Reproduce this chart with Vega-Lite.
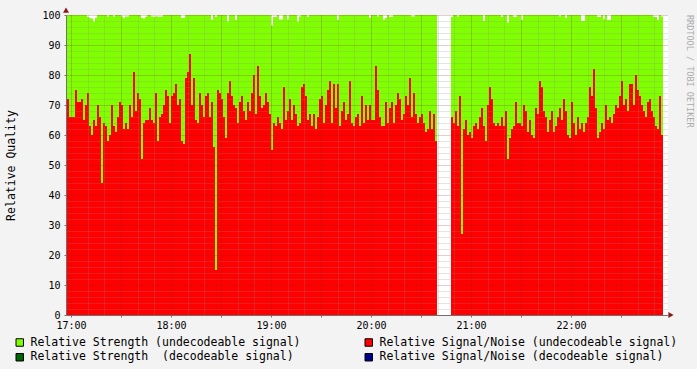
{
  "$schema": "https://vega.github.io/schema/vega-lite/v6.json",
  "width": 602,
  "height": 300,
  "autosize": {"type": "none"},
  "padding": {"left": 66, "top": 15, "right": 29, "bottom": 54},
  "background": "#F3F3F3",
  "config": {"view": {"stroke": null, "fill": "#FFFFFF"}, "font": "DejaVu Sans Mono", "scale": {"continuousPadding": 0}},
  "title": {"text": "RRDTOOL / TOBI OETIKER", "orient": "right", "anchor": "start", "frame": "group", "offset": 7, "fontSize": 8.5, "font": "DejaVu Sans Mono", "color": "#ABABAB", "fontWeight": "normal"},
  "data": {"values": [
{"t":-2.4,"t2":-1.2,"r":72,"g":100},{"t":-1.2,"t2":0,"r":66,"g":100},{"t":0,"t2":1.2,"r":66,"g":100},{"t":1.2,"t2":2.4,"r":66,"g":100},{"t":2.4,"t2":3.6,"r":75,"g":100},{"t":3.6,"t2":4.8,"r":71,"g":100},{"t":4.8,"t2":6,"r":71,"g":100},{"t":6,"t2":7.2,"r":72,"g":100},{"t":7.2,"t2":8.4,"r":65,"g":100},{"t":8.4,"t2":9.6,"r":70,"g":100},
{"t":9.6,"t2":10.8,"r":74,"g":99.3},{"t":10.8,"t2":12,"r":63,"g":99},{"t":12,"t2":13.2,"r":60,"g":98.8},{"t":13.2,"t2":14.4,"r":65,"g":97.8},{"t":14.4,"t2":15.6,"r":63,"g":99},{"t":15.6,"t2":16.8,"r":70,"g":100},{"t":16.8,"t2":18,"r":66,"g":100},{"t":18,"t2":19.2,"r":44,"g":100},{"t":19.2,"t2":20.4,"r":64,"g":100},{"t":20.4,"t2":21.6,"r":63,"g":100},
{"t":21.6,"t2":22.8,"r":58,"g":99.5},{"t":22.8,"t2":24,"r":60,"g":100},{"t":24,"t2":25.2,"r":70,"g":100},{"t":25.2,"t2":26.4,"r":63,"g":99.5},{"t":26.4,"t2":27.6,"r":61,"g":100},{"t":27.6,"t2":28.8,"r":66,"g":100},{"t":28.8,"t2":30,"r":71,"g":100},{"t":30,"t2":31.2,"r":70,"g":99.5},{"t":31.2,"t2":32.4,"r":62,"g":99},{"t":32.4,"t2":33.6,"r":64,"g":99.5},
{"t":33.6,"t2":34.8,"r":62,"g":99.5},{"t":34.8,"t2":36,"r":70,"g":100},{"t":36,"t2":37.2,"r":66,"g":100},{"t":37.2,"t2":38.4,"r":81,"g":100},{"t":38.4,"t2":39.6,"r":68,"g":100},{"t":39.6,"t2":40.8,"r":74,"g":100},{"t":40.8,"t2":42,"r":72,"g":100},{"t":42,"t2":43.2,"r":52,"g":99},{"t":43.2,"t2":44.4,"r":64,"g":98.8},{"t":44.4,"t2":45.6,"r":65,"g":99.3},
{"t":45.6,"t2":46.8,"r":65,"g":100},{"t":46.8,"t2":48,"r":69,"g":100},{"t":48,"t2":49.2,"r":65,"g":99.5},{"t":49.2,"t2":50.4,"r":64,"g":99.3},{"t":50.4,"t2":51.6,"r":74,"g":99.6},{"t":51.6,"t2":52.8,"r":58,"g":99.5},{"t":52.8,"t2":54,"r":66,"g":99.3},{"t":54,"t2":55.2,"r":67,"g":99.5},{"t":55.2,"t2":56.4,"r":70,"g":100},{"t":56.4,"t2":57.6,"r":75,"g":100},
{"t":57.6,"t2":58.8,"r":73,"g":100},{"t":58.8,"t2":60,"r":64,"g":100},{"t":60,"t2":61.2,"r":73,"g":100},{"t":61.2,"t2":62.4,"r":74,"g":100},{"t":62.4,"t2":63.6,"r":77,"g":100},{"t":63.6,"t2":64.8,"r":70,"g":100},{"t":64.8,"t2":66,"r":72,"g":100},{"t":66,"t2":67.2,"r":58,"g":99},{"t":67.2,"t2":68.4,"r":57,"g":99},{"t":68.4,"t2":69.6,"r":79,"g":100},
{"t":69.6,"t2":70.8,"r":81,"g":100},{"t":70.8,"t2":72,"r":87,"g":100},{"t":72,"t2":73.2,"r":70,"g":100},{"t":73.2,"t2":74.4,"r":79,"g":100},{"t":74.4,"t2":75.6,"r":65,"g":100},{"t":75.6,"t2":76.8,"r":64,"g":100},{"t":76.8,"t2":78,"r":74,"g":100},{"t":78,"t2":79.2,"r":70,"g":100},{"t":79.2,"t2":80.4,"r":66,"g":100},{"t":80.4,"t2":81.6,"r":73,"g":100},
{"t":81.6,"t2":82.8,"r":74,"g":100},{"t":82.8,"t2":84,"r":66,"g":100},{"t":84,"t2":85.2,"r":71,"g":98.3},{"t":85.2,"t2":86.4,"r":56,"g":100},{"t":86.4,"t2":87.6,"r":15,"g":99.3},{"t":87.6,"t2":88.8,"r":75,"g":100},{"t":88.8,"t2":90,"r":74,"g":100},{"t":90,"t2":91.2,"r":72,"g":100},{"t":91.2,"t2":92.4,"r":66,"g":100},{"t":92.4,"t2":93.6,"r":59,"g":100},
{"t":93.6,"t2":94.8,"r":74,"g":97.8},{"t":94.8,"t2":96,"r":78,"g":100},{"t":96,"t2":97.2,"r":73,"g":100},{"t":97.2,"t2":98.4,"r":70,"g":100},{"t":98.4,"t2":99.6,"r":69,"g":98.3},{"t":99.6,"t2":100.8,"r":64,"g":100},{"t":100.8,"t2":102,"r":71,"g":100},{"t":102,"t2":103.2,"r":73,"g":100},{"t":103.2,"t2":104.4,"r":68,"g":100},{"t":104.4,"t2":105.6,"r":65,"g":100},
{"t":105.6,"t2":106.8,"r":71,"g":100},{"t":106.8,"t2":108,"r":68,"g":100},{"t":108,"t2":109.2,"r":74,"g":100},{"t":109.2,"t2":110.4,"r":80,"g":100},{"t":110.4,"t2":111.6,"r":67,"g":100},{"t":111.6,"t2":112.8,"r":83,"g":100},{"t":112.8,"t2":114,"r":73,"g":100},{"t":114,"t2":115.2,"r":69,"g":100},{"t":115.2,"t2":116.4,"r":70,"g":100},{"t":116.4,"t2":117.6,"r":74,"g":100},
{"t":117.6,"t2":118.8,"r":71,"g":100},{"t":118.8,"t2":120,"r":67,"g":100},{"t":120,"t2":121.2,"r":55,"g":96.5},{"t":121.2,"t2":122.4,"r":64,"g":99.3},{"t":122.4,"t2":123.6,"r":63,"g":99.3},{"t":123.6,"t2":124.8,"r":66,"g":100},{"t":124.8,"t2":126,"r":64,"g":98.5},{"t":126,"t2":127.2,"r":62,"g":98.5},{"t":127.2,"t2":128.4,"r":76,"g":100},{"t":128.4,"t2":129.6,"r":65,"g":100},
{"t":129.6,"t2":130.8,"r":68,"g":98.5},{"t":130.8,"t2":132,"r":72,"g":100},{"t":132,"t2":133.2,"r":65,"g":100},{"t":133.2,"t2":134.4,"r":70,"g":100},{"t":134.4,"t2":135.6,"r":67,"g":100},{"t":135.6,"t2":136.8,"r":63,"g":97.8},{"t":136.8,"t2":138,"r":64,"g":99.5},{"t":138,"t2":139.2,"r":76,"g":100},{"t":139.2,"t2":140.4,"r":77,"g":100},{"t":140.4,"t2":141.6,"r":73,"g":100},
{"t":141.6,"t2":142.8,"r":65,"g":99.3},{"t":142.8,"t2":144,"r":67,"g":100},{"t":144,"t2":145.2,"r":63,"g":100},{"t":145.2,"t2":146.4,"r":67,"g":100},{"t":146.4,"t2":147.6,"r":62,"g":100},{"t":147.6,"t2":148.8,"r":66,"g":100},{"t":148.8,"t2":150,"r":72,"g":100},{"t":150,"t2":151.2,"r":73,"g":100},{"t":151.2,"t2":152.4,"r":64,"g":100},{"t":152.4,"t2":153.6,"r":70,"g":100},
{"t":153.6,"t2":154.8,"r":75,"g":100},{"t":154.8,"t2":156,"r":78,"g":100},{"t":156,"t2":157.2,"r":64,"g":100},{"t":157.2,"t2":158.4,"r":77,"g":100},{"t":158.4,"t2":159.6,"r":69,"g":100},{"t":159.6,"t2":160.8,"r":77,"g":98.3},{"t":160.8,"t2":162,"r":63,"g":100},{"t":162,"t2":163.2,"r":68,"g":100},{"t":163.2,"t2":164.4,"r":71,"g":100},{"t":164.4,"t2":165.6,"r":65,"g":100},
{"t":165.6,"t2":166.8,"r":67,"g":100},{"t":166.8,"t2":168,"r":78,"g":100},{"t":168,"t2":169.2,"r":64,"g":100},{"t":169.2,"t2":170.4,"r":63,"g":100},{"t":170.4,"t2":171.6,"r":66,"g":100},{"t":171.6,"t2":172.8,"r":67,"g":100},{"t":172.8,"t2":174,"r":63,"g":100},{"t":174,"t2":175.2,"r":73,"g":100},{"t":175.2,"t2":176.4,"r":64,"g":100},{"t":176.4,"t2":177.6,"r":70,"g":100},
{"t":177.6,"t2":178.8,"r":65,"g":100},{"t":178.8,"t2":180,"r":70,"g":99},{"t":180,"t2":181.2,"r":65,"g":100},{"t":181.2,"t2":182.4,"r":65,"g":100},{"t":182.4,"t2":183.6,"r":83,"g":100},{"t":183.6,"t2":184.8,"r":75,"g":99.5},{"t":184.8,"t2":186,"r":66,"g":100},{"t":186,"t2":187.2,"r":63,"g":100},{"t":187.2,"t2":188.4,"r":63,"g":98.3},{"t":188.4,"t2":189.6,"r":71,"g":99},
{"t":189.6,"t2":190.8,"r":64,"g":100},{"t":190.8,"t2":192,"r":69,"g":99.3},{"t":192,"t2":193.2,"r":71,"g":99.3},{"t":193.2,"t2":194.4,"r":64,"g":100},{"t":194.4,"t2":195.6,"r":70,"g":100},{"t":195.6,"t2":196.8,"r":74,"g":100},{"t":196.8,"t2":198,"r":72,"g":100},{"t":198,"t2":199.2,"r":65,"g":100},{"t":199.2,"t2":200.4,"r":67,"g":100},{"t":200.4,"t2":201.6,"r":73,"g":100},
{"t":201.6,"t2":202.8,"r":70,"g":100},{"t":202.8,"t2":204,"r":79,"g":100},{"t":204,"t2":205.2,"r":66,"g":99.5},{"t":205.2,"t2":206.4,"r":74,"g":99.5},{"t":206.4,"t2":207.6,"r":67,"g":100},{"t":207.6,"t2":208.8,"r":64,"g":100},{"t":208.8,"t2":210,"r":66,"g":100},{"t":210,"t2":211.2,"r":67,"g":100},{"t":211.2,"t2":212.4,"r":64,"g":100},{"t":212.4,"t2":213.6,"r":61,"g":100},
{"t":213.6,"t2":214.8,"r":62,"g":100},{"t":214.8,"t2":216,"r":68,"g":100},{"t":216,"t2":217.2,"r":62,"g":100},{"t":217.2,"t2":218.4,"r":67,"g":100},{"t":218.4,"t2":219.6,"r":58,"g":100},
{"t":228,"t2":229.2,"r":66,"g":99.3},{"t":229.2,"t2":230.4,"r":64,"g":100},{"t":230.4,"t2":231.6,"r":68,"g":100},{"t":231.6,"t2":232.8,"r":63,"g":99.5},{"t":232.8,"t2":234,"r":73,"g":100},{"t":234,"t2":235.2,"r":27,"g":100},{"t":235.2,"t2":236.4,"r":62,"g":100},{"t":236.4,"t2":237.6,"r":65,"g":100},{"t":237.6,"t2":238.8,"r":60,"g":100},{"t":238.8,"t2":240,"r":61,"g":100},
{"t":240,"t2":241.2,"r":59,"g":100},{"t":241.2,"t2":242.4,"r":63,"g":100},{"t":242.4,"t2":243.6,"r":64,"g":100},{"t":243.6,"t2":244.8,"r":62,"g":100},{"t":244.8,"t2":246,"r":66,"g":100},{"t":246,"t2":247.2,"r":69,"g":100},{"t":247.2,"t2":248.4,"r":63,"g":98},{"t":248.4,"t2":249.6,"r":58,"g":100},{"t":249.6,"t2":250.8,"r":70,"g":100},{"t":250.8,"t2":252,"r":76,"g":100},
{"t":252,"t2":253.2,"r":72,"g":100},{"t":253.2,"t2":254.4,"r":64,"g":100},{"t":254.4,"t2":255.6,"r":63,"g":100},{"t":255.6,"t2":256.8,"r":64,"g":100},{"t":256.8,"t2":258,"r":63,"g":100},{"t":258,"t2":259.2,"r":66,"g":99.3},{"t":259.2,"t2":260.4,"r":63,"g":100},{"t":260.4,"t2":261.6,"r":68,"g":100},{"t":261.6,"t2":262.8,"r":52,"g":97.5},{"t":262.8,"t2":264,"r":59,"g":100},
{"t":264,"t2":265.2,"r":62,"g":100},{"t":265.2,"t2":266.4,"r":63,"g":99.3},{"t":266.4,"t2":267.6,"r":71,"g":99.3},{"t":267.6,"t2":268.8,"r":64,"g":100},{"t":268.8,"t2":270,"r":64,"g":100},{"t":270,"t2":271.2,"r":63,"g":98.3},{"t":271.2,"t2":272.4,"r":70,"g":100},{"t":272.4,"t2":273.6,"r":68,"g":100},{"t":273.6,"t2":274.8,"r":61,"g":100},{"t":274.8,"t2":276,"r":65,"g":100},
{"t":276,"t2":277.2,"r":60,"g":100},{"t":277.2,"t2":278.4,"r":59,"g":100},{"t":278.4,"t2":279.6,"r":69,"g":100},{"t":279.6,"t2":280.8,"r":67,"g":100},{"t":280.8,"t2":282,"r":78,"g":100},{"t":282,"t2":283.2,"r":76,"g":100},{"t":283.2,"t2":284.4,"r":68,"g":100},{"t":284.4,"t2":285.6,"r":66,"g":100},{"t":285.6,"t2":286.8,"r":61,"g":100},{"t":286.8,"t2":288,"r":65,"g":100},
{"t":288,"t2":289.2,"r":68,"g":100},{"t":289.2,"t2":290.4,"r":61,"g":100},{"t":290.4,"t2":291.6,"r":63,"g":100},{"t":291.6,"t2":292.8,"r":66,"g":100},{"t":292.8,"t2":294,"r":69,"g":99.5},{"t":294,"t2":295.2,"r":65,"g":100},{"t":295.2,"t2":296.4,"r":72,"g":100},{"t":296.4,"t2":297.6,"r":68,"g":99},{"t":297.6,"t2":298.8,"r":60,"g":100},{"t":298.8,"t2":300,"r":59,"g":100},
{"t":300,"t2":301.2,"r":71,"g":100},{"t":301.2,"t2":302.4,"r":64,"g":100},{"t":302.4,"t2":303.6,"r":60,"g":100},{"t":303.6,"t2":304.8,"r":66,"g":100},{"t":304.8,"t2":306,"r":62,"g":100},{"t":306,"t2":307.2,"r":64,"g":98},{"t":307.2,"t2":308.4,"r":61,"g":98},{"t":308.4,"t2":309.6,"r":64,"g":100},{"t":309.6,"t2":310.8,"r":66,"g":100},{"t":310.8,"t2":312,"r":76,"g":100},
{"t":312,"t2":313.2,"r":73,"g":100},{"t":313.2,"t2":314.4,"r":82,"g":100},{"t":314.4,"t2":315.6,"r":69,"g":100},{"t":315.6,"t2":316.8,"r":59,"g":99.3},{"t":316.8,"t2":318,"r":61,"g":99.3},{"t":318,"t2":319.2,"r":64,"g":100},{"t":319.2,"t2":320.4,"r":62,"g":98.6},{"t":320.4,"t2":321.6,"r":70,"g":100},{"t":321.6,"t2":322.8,"r":65,"g":98.3},{"t":322.8,"t2":324,"r":66,"g":98.3},
{"t":324,"t2":325.2,"r":64,"g":100},{"t":325.2,"t2":326.4,"r":67,"g":100},{"t":326.4,"t2":327.6,"r":70,"g":100},{"t":327.6,"t2":328.8,"r":69,"g":100},{"t":328.8,"t2":330,"r":73,"g":100},{"t":330,"t2":331.2,"r":78,"g":100},{"t":331.2,"t2":332.4,"r":70,"g":100},{"t":332.4,"t2":333.6,"r":72,"g":100},{"t":333.6,"t2":334.8,"r":68,"g":100},{"t":334.8,"t2":336,"r":77,"g":100},
{"t":336,"t2":337.2,"r":77,"g":100},{"t":337.2,"t2":338.4,"r":70,"g":100},{"t":338.4,"t2":339.6,"r":80,"g":100},{"t":339.6,"t2":340.8,"r":75,"g":100},{"t":340.8,"t2":342,"r":73,"g":100},{"t":342,"t2":343.2,"r":70,"g":100},{"t":343.2,"t2":344.4,"r":68,"g":100},{"t":344.4,"t2":345.6,"r":66,"g":100},{"t":345.6,"t2":346.8,"r":71,"g":100},{"t":346.8,"t2":348,"r":72,"g":100},
{"t":348,"t2":349.2,"r":68,"g":100},{"t":349.2,"t2":350.4,"r":66,"g":99.3},{"t":350.4,"t2":351.6,"r":63,"g":99.3},{"t":351.6,"t2":352.8,"r":62,"g":98.3},{"t":352.8,"t2":354,"r":73,"g":100},{"t":354,"t2":355.2,"r":60,"g":99.5}
  ]},
  "layer": [
    {
      "mark": {"type": "bar", "orient": "vertical", "strokeWidth": 0},
      "encoding": {
        "x": {"field": "t", "type": "quantitative", "scale": {"domain": [-3, 358.2], "nice": false, "zero": false, "padding": 0},
          "axis": {"orient": "bottom", "values": [10,20,40,50,70,80,100,110,130,140,160,170,190,200,220,230,250,260,280,290,310,320,340,350], "grid": true, "gridColor": "#8C8C8C", "gridOpacity": 0.45, "gridDash": [1,1], "labels": false, "ticks": false, "domain": false, "title": null, "zindex": 1}},
        "x2": {"field": "t2"},
        "y": {"field": "g", "type": "quantitative", "scale": {"domain": [0, 100], "nice": false, "padding": 0},
          "axis": {"orient": "left", "values": [2,4,6,8,12,14,16,18,22,24,26,28,32,34,36,38,42,44,46,48,52,54,56,58,62,64,66,68,72,74,76,78,82,84,86,88,92,94,96,98], "grid": true, "gridColor": "#8C8C8C", "gridOpacity": 0.45, "gridDash": [1,1], "labels": false, "ticks": false, "domain": false, "title": null, "zindex": 1}},
        "y2": {"datum": 0},
        "color": {"datum": "Relative Strength (undecodeable signal)", "type": "nominal",
          "scale": {"domain": ["Relative Strength (undecodeable signal)", "Relative Strength \u00a0(decodeable signal)", "Relative Signal/Noise (undecodeable signal)", "Relative Signal/Noise (decodeable signal)"], "range": ["#7FFF00", "#006400", "#FF0000", "#000088"]},
          "legend": {"orient": "none", "legendX": -52, "legendY": 321.5, "columns": 2, "columnPadding": 62, "rowPadding": 2, "symbolType": "square", "symbolSize": 56, "symbolStrokeColor": "#000000", "symbolStrokeWidth": 1, "symbolOpacity": 1, "labelFont": "DejaVu Sans Mono", "labelFontSize": 11.5, "labelColor": "#000000", "labelOffset": 5, "labelLimit": 0, "title": null, "padding": 0,
            "encode": {"symbols": {"update": {"stroke": {"value": "#000000"}, "strokeWidth": {"value": 1}}}}}}
      }
    },
    {
      "mark": {"type": "bar", "orient": "vertical", "strokeWidth": 0},
      "encoding": {
        "x": {"field": "t", "type": "quantitative",
          "axis": {"orient": "bottom", "values": [0,30,60,90,120,150,180,210,240,270,300,330], "labelExpr": "datum.value % 60 == 0 ? (17 + datum.value / 60) + ':00' : ''", "grid": true, "gridColor": "#821E1E", "gridOpacity": 0.45, "gridDash": [1,1], "ticks": true, "tickSize": 2, "tickColor": "#707070", "domain": true, "domainColor": "#707070", "labelFont": "DejaVu Sans Mono", "labelFontSize": 10, "labelColor": "#000000", "labelPadding": 3, "title": null, "zindex": 1}},
        "x2": {"field": "t2"},
        "y": {"field": "r", "type": "quantitative",
          "axis": {"orient": "left", "values": [0,10,20,30,40,50,60,70,80,90,100], "grid": true, "gridColor": "#821E1E", "gridOpacity": 0.45, "gridDash": [1,1], "ticks": true, "tickSize": 2, "tickColor": "#707070", "domain": true, "domainColor": "#707070", "labelFont": "DejaVu Sans Mono", "labelFontSize": 10, "labelColor": "#000000", "labelPadding": 4, "title": "Relative Quality", "titleFont": "DejaVu Sans Mono", "titleFontSize": 11.5, "titleFontWeight": "normal", "titleColor": "#000000", "titleX": -55, "titleY": 150, "titleAngle": -90, "titleBaseline": "middle", "titleAlign": "center", "zindex": 1}},
        "y2": {"datum": 0},
        "color": {"datum": "Relative Signal/Noise (undecodeable signal)", "type": "nominal"}
      }
    },
    {
      "data": {"values": [{}]},
      "mark": {"type": "point", "shape": "triangle-up", "filled": true, "size": 36, "color": "#8B1A1A", "opacity": 1},
      "encoding": {"x": {"datum": -3, "type": "quantitative", "axis": null}, "y": {"datum": 101.6, "type": "quantitative", "axis": null}}
    },
    {
      "data": {"values": [{}]},
      "mark": {"type": "point", "shape": "triangle-right", "filled": true, "size": 36, "color": "#8B1A1A", "opacity": 1},
      "encoding": {"x": {"datum": 360, "type": "quantitative", "axis": null}, "y": {"datum": 0, "type": "quantitative", "axis": null}}
    }
  ],
  "resolve": {"axis": {"x": "independent", "y": "independent"}}
}
